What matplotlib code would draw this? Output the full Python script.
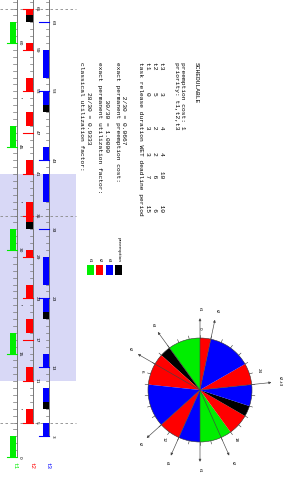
import numpy as np
import matplotlib
matplotlib.use("Agg")
import matplotlib.pyplot as plt
from matplotlib.patches import Wedge, Rectangle, Circle

# ---------------- data ----------------
tasks = ["t1", "t2", "t3"]
task_colors = ["#00ee00", "#ff0000", "#0000ff"]
first_release = [0, 5, 3]
periods = [15, 6, 10]
durations = [3, 2, 4]
deadlines = [7, 6, 10]
horizon = 65

# schedule (task index, start, end); -1 = preemption cost
sched_task = [0, 2, 1, -1, 2, 1, 2, 0, 1, -1, 2, 1, 2, 1,
              0, -1, 1, 2, 1, 2, 0, 1, -1, 2, 1, 2, 1, 0, -1, 1]
sched_owner = [0, 2, 1, 2, 2, 1, 2, 0, 1, 2, 2, 1, 2, 1,
               0, 1, 1, 2, 1, 2, 0, 1, 2, 2, 1, 2, 1, 0, 1, 1]
sched_start = [0, 3, 5, 7, 8, 11, 13, 15, 18, 20, 21, 23, 25, 29,
               30, 33, 34, 37, 41, 43, 45, 48, 50, 51, 53, 55, 59, 60, 63, 64]
sched_end = [3, 5, 7, 8, 10, 13, 15, 18, 20, 21, 23, 25, 29, 30,
             33, 34, 37, 41, 43, 45, 48, 50, 51, 53, 55, 59, 60, 63, 64, 65]

cycle_start = 30
cycle_len = 30
shade_from, shade_to = 11, 41
dashed_times = [5, 35, 65]
circle_labels = [0, 6, 12, 18, 24]

info_lines = [
    "classical utilization factor:",
    "        28/30 = 0.9333",
    "exact permanent utilization factor:",
    "          30/30 = 1.0000",
    "exact permanent preemption cost:",
    "         2/30 = 0.0667",
    "task release duration WET deadline period",
    "t1      0        3      3     7       15",
    "t2      5        2      2     6        6",
    "t3      3        4      4    10       10",
    "",
    "priority: t1,t2,t3",
    "preemption cost: 1",
    "",
    "SCHEDULABLE",
]

# ---------------- figure ----------------
W, H = 284, 483
fig = plt.figure(figsize=(W / 100, H / 100), dpi=100)
MONO = "Liberation Mono"


def fx(px):
    return px / W


def fy(py):
    return 1 - py / H


# ---------- Gantt (transposed: time runs upward) ----------
gx = fig.add_axes([0, 0, fx(80), 1])
gx.set_xlim(0, 80)
t_top = (457 - 0) / 6.9
t_bot = (457 - 483) / 6.9
gx.set_ylim(t_bot, t_top)
gx.axis("off")

lane_x = [16.5, 33, 49.3]

gx.add_patch(Rectangle((0, shade_from), 76, shade_to - shade_from,
                       facecolor="#d8d8f6", edgecolor="none", zorder=0))
for dt in dashed_times:
    gx.plot([0, 76], [dt, dt], ls=(0, (3, 3)), color="#888888", lw=0.6, zorder=1)

for i, name in enumerate(tasks):
    ax_x = lane_x[i]
    r0 = first_release[i]
    gx.plot([ax_x, ax_x], [r0, t_top], color="#777777", lw=0.7, zorder=2)
    for tt in np.arange(r0, int(t_top) + 1):
        gx.plot([ax_x - 3.5, ax_x], [tt, tt], color="#777777", lw=0.5, zorder=2)
    rel = np.arange(r0, horizon + 1, periods[i])
    for rr in rel:
        gx.plot([ax_x - 10, ax_x], [rr, rr], color=task_colors[i], lw=0.8, zorder=4)
        gx.text(ax_x + 3.5, rr, str(int(rr)), rotation=-90, fontsize=3.2,
                ha="center", va="center", family="DejaVu Sans", zorder=5)
    if deadlines[i] != periods[i]:
        for rr in rel:
            d = rr + deadlines[i]
            if d <= horizon:
                gx.text(ax_x + 3, d, "'", rotation=-90, fontsize=4,
                        ha="center", va="center", zorder=5)
    gx.text(ax_x - 1.5, -1.2, name, rotation=-90, fontsize=4.2,
            color=task_colors[i], ha="center", va="center", family=MONO)

for k in range(len(sched_task)):
    owner = sched_owner[k]
    col = "black" if sched_task[k] < 0 else task_colors[owner]
    gx.bar(lane_x[owner] - 3.5, sched_end[k] - sched_start[k], width=6.5,
           bottom=sched_start[k], color=col, edgecolor="none", zorder=3)

# ---------- legend ----------
leg_x = [90, 99.5, 109, 118.5]
leg_names = tasks + ["preemption"]
leg_cols = task_colors + ["black"]
for lx, nm, c in zip(leg_x, leg_names, leg_cols):
    fig.patches.append(Rectangle((fx(lx - 3.5), fy(275)), 7 / W, 10 / H,
                                 transform=fig.transFigure, facecolor=c,
                                 edgecolor="none"))
    fig.text(fx(lx), fy(262), nm, rotation=-90, fontsize=3.2, ha="center",
             va="bottom", family="DejaVu Sans")

# ---------- text block ----------
line_x = [81, 88, 99, 106, 117, 124, 140, 147, 154, 161, 168, 176, 183, 190, 196]
for lx, s in zip(line_x, info_lines):
    if s:
        fig.text(fx(lx), fy(62), s, rotation=-90, fontsize=4.5, ha="center",
                 va="top", family=MONO)

# ---------- circle ----------
cx, cy, R = 200, 390, 52
half = 90
cax = fig.add_axes([fx(cx - half), fy(cy + half), 2 * half / W, 2 * half / H])
lim = half / R
cax.set_xlim(-lim, lim)
cax.set_ylim(-lim, lim)
cax.axis("off")


def ang(t):
    return 90 + 360.0 * ((t - cycle_start) % cycle_len) / cycle_len


for k in range(len(sched_task)):
    if sched_start[k] >= cycle_start and sched_end[k] <= cycle_start + cycle_len:
        col = "black" if sched_task[k] < 0 else task_colors[sched_owner[k]]
        a1 = ang(sched_start[k])
        a2 = a1 + 360.0 * (sched_end[k] - sched_start[k]) / cycle_len
        cax.add_patch(Wedge((0, 0), 1, a1, a2, facecolor=col, edgecolor="none"))

cax.add_patch(Circle((0, 0), 1, fill=False, edgecolor="#333333", lw=0.4))
for tt in range(cycle_len):
    a = np.deg2rad(ang(cycle_start + tt))
    cax.plot([np.cos(a), 1.06 * np.cos(a)], [np.sin(a), 1.06 * np.sin(a)],
             color="#333333", lw=0.4)
for tt in circle_labels:
    a = np.deg2rad(ang(cycle_start + tt))
    cax.text(1.18 * np.cos(a), 1.18 * np.sin(a), str(tt), rotation=-90,
             fontsize=3, ha="center", va="center")

# releases within one cycle
rel_names = {}
for i, name in enumerate(tasks):
    for rr in range(first_release[i], 200, periods[i]):
        if cycle_start <= rr < cycle_start + cycle_len:
            rel_names.setdefault(rr % cycle_len, []).append(name)
for tt in sorted(rel_names):
    a = np.deg2rad(ang(cycle_start + tt))
    cax.annotate("", xy=(1.38 * np.cos(a), 1.38 * np.sin(a)), xytext=(0, 0),
                 arrowprops=dict(arrowstyle="-|>", lw=0.45, color="#444444",
                                 mutation_scale=3.5, shrinkA=0, shrinkB=0))
    cax.text(1.55 * np.cos(a), 1.55 * np.sin(a), ",".join(rel_names[tt]),
             rotation=-90, fontsize=3.2, ha="center", va="center")

fig.savefig("out.png", dpi=100)
